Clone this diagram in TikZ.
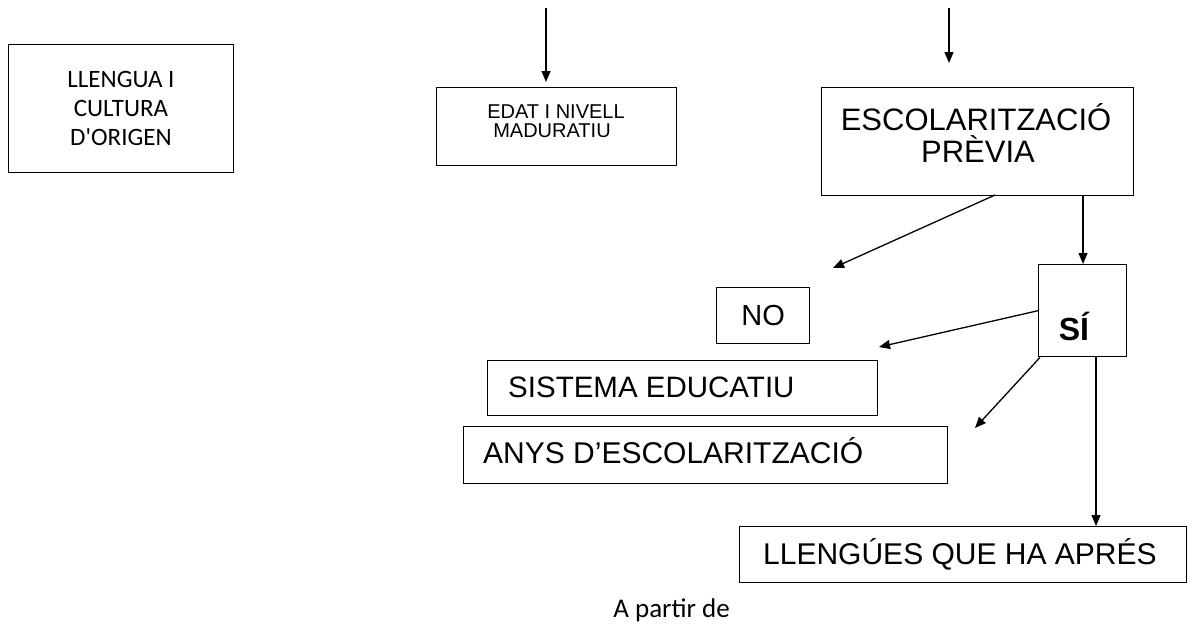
\documentclass[tikz,border=0pt]{standalone}
\usepackage{fontspec}
\setmainfont{Liberation Sans}
\newfontfamily\carlito[Ligatures=TeXOff]{Carlito}
\usetikzlibrary{arrows.meta}
\begin{document}
\begin{tikzpicture}[x=1pt,y=-1pt,
  box/.style={draw, line width=1.4pt, inner sep=0pt, anchor=north west},
  txt/.style={inner sep=0pt},
  arr/.style={line width=1.3pt, -{Triangle[width=9pt,length=11pt]}}]
\useasboundingbox (0,0) rectangle (1198,624);
% boxes
\node[draw, line width=0.9pt, inner sep=0pt, anchor=north west, minimum width=225pt, minimum height=128pt,
  align=center, font=\carlito\fontsize{25}{29}\selectfont] (orig) at (8,44) {LLENGUA I\\CULTURA\\D'ORIGEN};
\node[box, minimum width=240pt, minimum height=78pt] (edat) at (436,87) {};
\node[box, minimum width=312pt, minimum height=108pt] (escol) at (821,87) {};
\node[box, minimum width=88pt, minimum height=92pt] (si) at (1038,264) {};
\node[box, minimum width=93pt, minimum height=56pt, font=\fontsize{29}{30}\selectfont] (no) at (716,287) {NO};
\node[box, minimum width=390pt, minimum height=55pt] (sist) at (487,360) {};
\node[box, minimum width=484pt, minimum height=57pt] (anys) at (463,426) {};
\node[box, minimum width=447pt, minimum height=56pt] (lleng) at (739,526) {};
% texts
\node[txt, anchor=base, font=\fontsize{20}{20}\selectfont] (edatT1) at (556,118) {EDAT I NIVELL};
\node[txt, anchor=base, font=\fontsize{20}{20}\selectfont] (edatT2) at (552,137) {MADURATIU};
\node[txt, anchor=base, font=\fontsize{31}{32}\selectfont] (escT1) at (976,130) {ESCOLARITZACIÓ};
\node[txt, anchor=base, font=\fontsize{31}{32}\selectfont] (escT2) at (978,162) {PRÈVIA};
\node[txt, anchor=base, font=\bfseries\fontsize{32}{32}\selectfont] (siT) at (1074,340) {SÍ};
\node[txt, anchor=base west, font=\fontsize{29.5}{30}\selectfont] (sistT) at (508,397) {SISTEMA EDUCATIU};
\node[txt, anchor=base west, font=\fontsize{30}{30}\selectfont] (anysT) at (483,463) {ANYS D’ESCOLARITZACIÓ};
\node[txt, anchor=base west, font=\fontsize{30}{30}\selectfont] (llengT) at (763,564) {LLENGÚES QUE HA APRÉS};
\node[txt, anchor=base east, font=\carlito\fontsize{27}{27}\selectfont] (apartir) at (730,617) {A partir de};
% connectors
\coordinate (t1) at (546,8);
\coordinate (t1e) at (546,82);
\draw[arr] (t1) -- (t1e);
\coordinate (t2) at (949,8);
\coordinate (t2e) at (949,63);
\draw[arr] (t2) -- (t2e);
\coordinate (s3) at (995,195);
\coordinate (p3) at (833,268);
\draw[arr] (s3) -- (p3);
\coordinate (s4) at (1083,195);
\draw[arr] (s4) -- (s4 |- si.north);
\coordinate (p5) at (879,347);
\draw[arr] (si.west) -- (p5);
\coordinate (p6) at (975,428);
\draw[arr] ([xshift=2pt]si.south west) -- (p6);
\coordinate (s7) at (1096,356);
\draw[arr] (s7) -- (s7 |- lleng.north);
\end{tikzpicture}
\end{document}
